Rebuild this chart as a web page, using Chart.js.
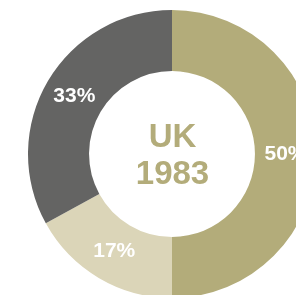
<!DOCTYPE html>
<html>
<head>
<meta charset="utf-8">
<script src="https://cdn.jsdelivr.net/npm/chart.js@4/dist/chart.umd.min.js"></script>
<style>
  html, body { margin: 0; padding: 0; background: #fff; overflow: hidden; width: 296px; height: 295px; }
  #wrap { position: absolute; left: 28px; top: 10px; width: 288px; height: 288px; }
</style>
</head>
<body>
<div id="wrap"><canvas id="myChart" width="288" height="288"></canvas></div>
<script>
let labels = ['Olive', 'Light', 'Grey'];
let values = [50, 17, 33];
let sliceLabels = ['50%', '17%', '33%'];
let colors = ['#b3ac7a', '#dbd5b8', '#646463'];
let centerLines = ['UK', '1983'];

// draws the % labels on the ring and the title in the hole
const textPlugin = {
  id: 'textPlugin',
  afterDatasetsDraw: (chart) => {
    const c = chart.ctx;
    const meta = chart.getDatasetMeta(0);
    c.save();
    c.textAlign = 'center';
    c.textBaseline = 'middle';
    c.fillStyle = '#ffffff';
    c.font = 'bold 21px "Liberation Sans", Arial, sans-serif';
    meta.data.forEach((arc, i) => {
      const p = arc.tooltipPosition();
      c.fillText(sliceLabels[i], p.x, p.y);
    });
    const cx = meta.data[0].x, cy = meta.data[0].y;
    c.fillStyle = colors[0];
    c.font = 'bold 33px "Liberation Sans", Arial, sans-serif';
    c.fillText(centerLines[0], cx + 0.5, cy - 16);
    c.fillText(centerLines[1], cx + 0.5, cy + 21);
    c.restore();
  }
};

new Chart(document.getElementById('myChart').getContext('2d'), {
  type: 'doughnut',
  data: {
    labels: labels,
    datasets: [{
      data: values,
      backgroundColor: colors,
      borderWidth: 0
    }]
  },
  options: {
    responsive: false,
    animation: false,
    cutout: '57.6%',
    layout: { padding: 0 },
    plugins: {
      legend: { display: false },
      tooltip: { enabled: false }
    }
  },
  plugins: [textPlugin]
});
</script>
</body>
</html>
